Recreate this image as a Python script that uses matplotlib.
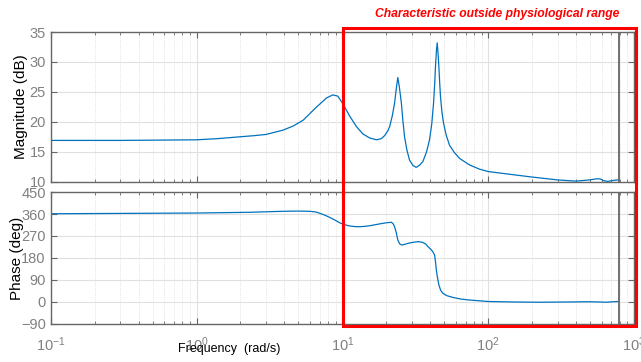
import matplotlib
matplotlib.use('Agg')
import matplotlib.pyplot as plt
from matplotlib.patches import Rectangle

plt.rcParams['font.family'] = ['Liberation Sans', 'DejaVu Sans']

# values
mag_freq = [0.1, 0.3, 1.0, 1.4, 1.98, 2.5, 3.0, 3.9, 4.6, 5.4, 6.6, 7.8, 8.6,
            9.3, 10.1, 11.2, 12.5, 13.8, 15.4, 17.2, 18.5, 19.5, 20.5, 21.1,
            22.0, 22.8, 23.5, 24.0, 24.6, 25.4, 26.0, 26.7, 27.7, 28.9, 30.5,
            32.1, 34.0, 35.7, 37.8, 39.6, 41.0, 42.2, 43.0, 43.5, 44.2, 44.7,
            45.3, 45.9, 46.5, 47.1, 48.2, 49.4, 51.5, 54.3, 58.5, 63.6, 74.5,
            87.2, 100, 140, 197, 300, 401, 494, 560, 590, 615, 660, 713, 772, 785]
mag_db = [16.9, 16.9, 17.0, 17.2, 17.5, 17.7, 17.9, 18.6, 19.3, 20.3, 22.4, 24.0,
          24.5, 24.3, 23.0, 21.0, 19.2, 18.0, 17.3, 17.0, 17.2, 17.7, 18.5, 19.2,
          21.0, 23.1, 25.8, 27.4, 25.8, 23.1, 20.2, 17.5, 15.3, 13.6, 12.7,
          12.4, 12.8, 13.4, 15.0, 17.0, 19.6, 23.1, 26.5, 29.2, 32.0, 33.2,
          31.5, 29.2, 26.5, 24.2, 21.6, 19.8, 17.8, 16.1, 14.9, 13.9, 12.8,
          12.1, 11.7, 11.25, 10.8, 10.3, 10.1, 10.3, 10.5, 10.45, 10.2, 10.05,
          10.2, 10.3, 10.3]

ph_freq = [0.1, 1.0, 2.3, 3.9, 5.0, 6.0, 6.6, 7.0, 7.6, 8.2, 8.9, 9.6, 10.4,
           11.2, 12.2, 13.1, 14.3, 15.4, 17.1, 19.0, 20.6, 21.7, 22.3, 22.8,
           23.4, 24.0, 24.7, 25.6, 26.8, 28.2, 30.5, 33.0, 35.5, 37.5, 38.7,
           40.5, 41.8, 42.9, 43.5, 44.1, 44.9, 45.9, 47.2, 48.8, 52, 57, 65,
           74.5, 87, 100, 150, 224, 350, 494, 580, 643, 720, 785]
ph_deg = [361, 364, 367, 371, 372, 371, 368, 363, 355, 346, 335, 324, 316,
          311, 308.5, 308, 309.5, 312, 317, 322, 325, 326, 320, 308,
          285, 254, 238, 233, 236, 240, 244, 247, 244, 236, 226,
          215, 205, 192, 165, 131, 100, 70, 48, 36, 26, 19, 12,
          8, 5, 2, 0, -1, 0, 1, 0, -1, 1, 2]

nyquist = 785
mag_ticks = [10, 15, 20, 25, 30, 35]
ph_ticks = [-90, 0, 90, 180, 270, 360, 450]

line_col = '#0072BD'
axis_col = '0.4'
label_col = '0.5'

fig = plt.figure(figsize=(6.41, 3.62), dpi=100)
ax1 = fig.add_axes([0.0791, 0.498, 0.910, 0.4135])
ax2 = fig.add_axes([0.0791, 0.105, 0.910, 0.3646])


def style(ax):
    ax.set_xscale('log')
    ax.set_xlim(0.1, 1000)
    ax.grid(True, which='major', color='0.88', lw=0.8, ls='-')
    ax.grid(True, which='minor', color='0.85', lw=0.6, ls=':')
    ax.set_axisbelow(True)
    ax.tick_params(which='both', direction='in', top=True, right=True,
                   colors=axis_col, labelcolor=label_col, labelsize=10.5)
    ax.tick_params(which='major', length=4)
    ax.tick_params(which='minor', length=2.5)
    for s in ax.spines.values():
        s.set_color(axis_col)
        s.set_linewidth(1.0)
    ax.axvline(nyquist, color='0.4', lw=1.3)


ax1.plot(mag_freq, mag_db, color=line_col, lw=0.9)
style(ax1)
ax1.set_ylim(10, 35)
ax1.set_yticks(mag_ticks)
ax1.tick_params(labelbottom=False)
ax1.set_ylabel('Magnitude (dB)', fontsize=11, color='black', labelpad=1)

ax2.plot(ph_freq, ph_deg, color=line_col, lw=0.9)
style(ax2)
ax2.set_ylim(-90, 450)
ax2.set_yticks(ph_ticks)
ax2.set_ylabel('Phase (deg)', fontsize=11, color='black', labelpad=-2)
ax2.tick_params(axis='x', pad=8)

fig.text(229 / 641, 1 - 349 / 362, 'Frequency  (rad/s)', ha='center', va='center',
         fontsize=9, color='black')

# highlighted region
rect = Rectangle((342.5 / 641, 1 - 326 / 362), (636 - 342.5) / 641, (326 - 28) / 362,
                 transform=fig.transFigure, fill=False, edgecolor='#ff0000', lw=2.2,
                 zorder=10)
fig.patches.append(rect)
fig.text(497 / 641, 1 - 14 / 362, 'Characteristic outside physiological range',
         ha='center', va='center', fontsize=8.7, color='#ff0000',
         fontweight='bold', fontstyle='italic')

fig.savefig('out.png', dpi=100)
